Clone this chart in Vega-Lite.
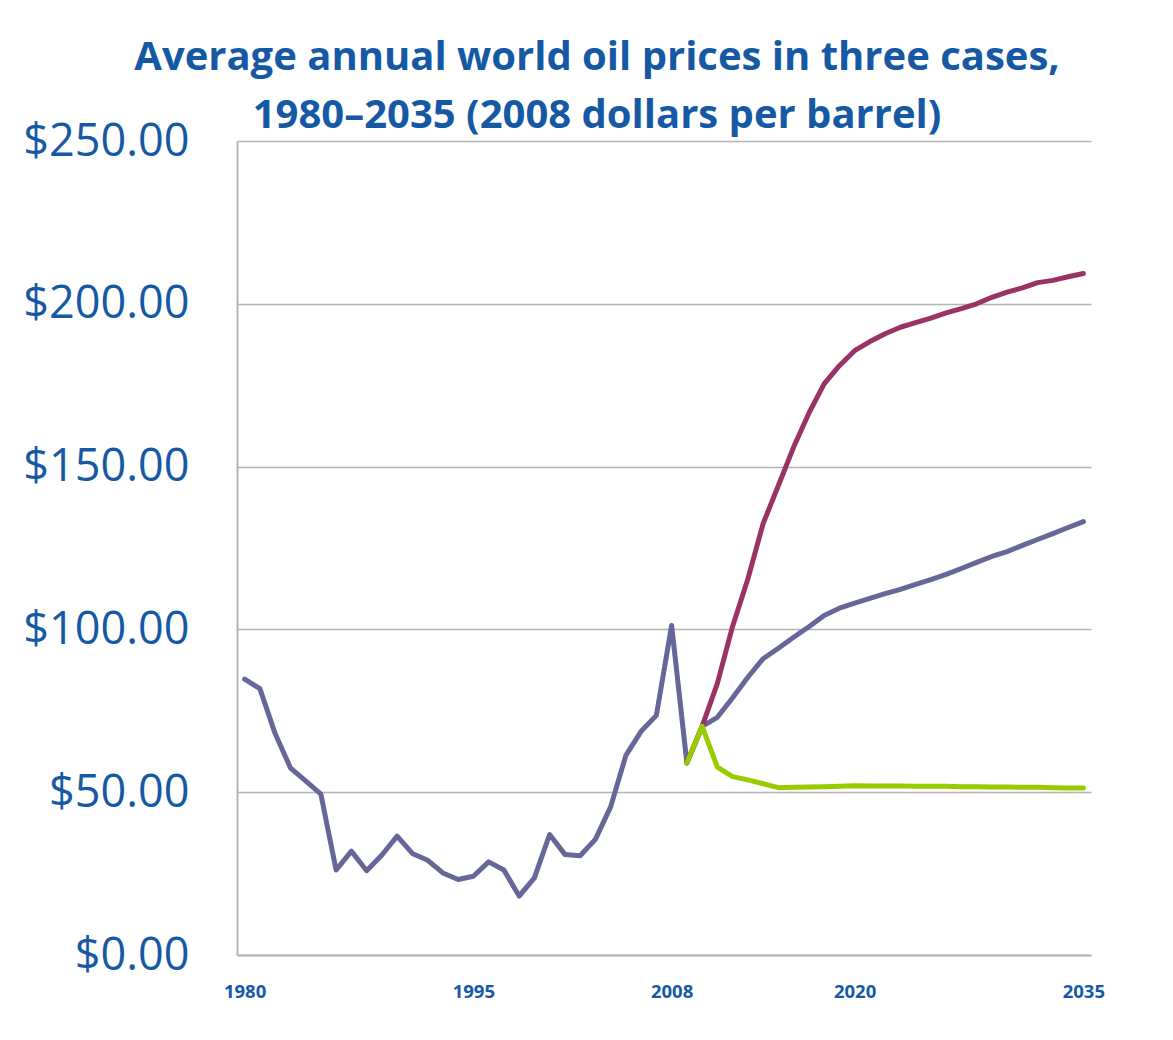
{
  "$schema": "https://vega.github.io/schema/vega-lite/v6.json",
  "autosize": {"type": "none"},
  "padding": {"left": 237, "top": 141, "right": 82, "bottom": 85},
  "width": 854,
  "height": 814,
  "background": "white",
  "title": {
    "text": ["Average annual world oil prices in three cases,", "1980–2035 (2008 dollars per barrel)"],
    "font": "Open Sans",
    "fontSize": 40,
    "fontWeight": "bold",
    "color": "#1559a5",
    "lineHeight": 58,
    "anchor": "middle",
    "dx": -67,
    "dy": 27,
    "offset": 10
  },
  "datasets": {
    "prices": [
      {"year": 1980, "price": 84.7, "case": "Reference"},
      {"year": 1981, "price": 81.8, "case": "Reference"},
      {"year": 1982, "price": 68.0, "case": "Reference"},
      {"year": 1983, "price": 57.5, "case": "Reference"},
      {"year": 1984, "price": 53.5, "case": "Reference"},
      {"year": 1985, "price": 49.4, "case": "Reference"},
      {"year": 1986, "price": 26.1, "case": "Reference"},
      {"year": 1987, "price": 31.9, "case": "Reference"},
      {"year": 1988, "price": 25.9, "case": "Reference"},
      {"year": 1989, "price": 30.7, "case": "Reference"},
      {"year": 1990, "price": 36.5, "case": "Reference"},
      {"year": 1991, "price": 31.2, "case": "Reference"},
      {"year": 1992, "price": 29.1, "case": "Reference"},
      {"year": 1993, "price": 25.2, "case": "Reference"},
      {"year": 1994, "price": 23.2, "case": "Reference"},
      {"year": 1995, "price": 24.2, "case": "Reference"},
      {"year": 1996, "price": 28.6, "case": "Reference"},
      {"year": 1997, "price": 26.1, "case": "Reference"},
      {"year": 1998, "price": 18.1, "case": "Reference"},
      {"year": 1999, "price": 23.7, "case": "Reference"},
      {"year": 2000, "price": 37.0, "case": "Reference"},
      {"year": 2001, "price": 30.9, "case": "Reference"},
      {"year": 2002, "price": 30.5, "case": "Reference"},
      {"year": 2003, "price": 35.5, "case": "Reference"},
      {"year": 2004, "price": 45.5, "case": "Reference"},
      {"year": 2005, "price": 61.3, "case": "Reference"},
      {"year": 2006, "price": 68.7, "case": "Reference"},
      {"year": 2007, "price": 73.6, "case": "Reference"},
      {"year": 2008, "price": 101.2, "case": "Reference"},
      {"year": 2009, "price": 59.0, "case": "Reference"},
      {"year": 2010, "price": 70.2, "case": "Reference"},
      {"year": 2011, "price": 73.0, "case": "Reference"},
      {"year": 2012, "price": 79.0, "case": "Reference"},
      {"year": 2013, "price": 85.3, "case": "Reference"},
      {"year": 2014, "price": 91.0, "case": "Reference"},
      {"year": 2015, "price": 94.2, "case": "Reference"},
      {"year": 2016, "price": 97.6, "case": "Reference"},
      {"year": 2017, "price": 100.8, "case": "Reference"},
      {"year": 2018, "price": 104.3, "case": "Reference"},
      {"year": 2019, "price": 106.5, "case": "Reference"},
      {"year": 2020, "price": 108.1, "case": "Reference"},
      {"year": 2021, "price": 109.5, "case": "Reference"},
      {"year": 2022, "price": 111.0, "case": "Reference"},
      {"year": 2023, "price": 112.3, "case": "Reference"},
      {"year": 2024, "price": 113.8, "case": "Reference"},
      {"year": 2025, "price": 115.3, "case": "Reference"},
      {"year": 2026, "price": 116.9, "case": "Reference"},
      {"year": 2027, "price": 118.7, "case": "Reference"},
      {"year": 2028, "price": 120.6, "case": "Reference"},
      {"year": 2029, "price": 122.4, "case": "Reference"},
      {"year": 2030, "price": 123.9, "case": "Reference"},
      {"year": 2031, "price": 125.8, "case": "Reference"},
      {"year": 2032, "price": 127.6, "case": "Reference"},
      {"year": 2033, "price": 129.4, "case": "Reference"},
      {"year": 2034, "price": 131.3, "case": "Reference"},
      {"year": 2035, "price": 133.1, "case": "Reference"},
      {"year": 2009, "price": 59.0, "case": "High price"},
      {"year": 2010, "price": 70.2, "case": "High price"},
      {"year": 2011, "price": 83.4, "case": "High price"},
      {"year": 2012, "price": 101.0, "case": "High price"},
      {"year": 2013, "price": 115.5, "case": "High price"},
      {"year": 2014, "price": 132.5, "case": "High price"},
      {"year": 2015, "price": 144.2, "case": "High price"},
      {"year": 2016, "price": 156.0, "case": "High price"},
      {"year": 2017, "price": 166.4, "case": "High price"},
      {"year": 2018, "price": 175.4, "case": "High price"},
      {"year": 2019, "price": 181.0, "case": "High price"},
      {"year": 2020, "price": 185.6, "case": "High price"},
      {"year": 2021, "price": 188.4, "case": "High price"},
      {"year": 2022, "price": 190.8, "case": "High price"},
      {"year": 2023, "price": 192.8, "case": "High price"},
      {"year": 2024, "price": 194.2, "case": "High price"},
      {"year": 2025, "price": 195.6, "case": "High price"},
      {"year": 2026, "price": 197.2, "case": "High price"},
      {"year": 2027, "price": 198.5, "case": "High price"},
      {"year": 2028, "price": 200.0, "case": "High price"},
      {"year": 2029, "price": 202.0, "case": "High price"},
      {"year": 2030, "price": 203.6, "case": "High price"},
      {"year": 2031, "price": 204.9, "case": "High price"},
      {"year": 2032, "price": 206.5, "case": "High price"},
      {"year": 2033, "price": 207.2, "case": "High price"},
      {"year": 2034, "price": 208.3, "case": "High price"},
      {"year": 2035, "price": 209.3, "case": "High price"},
      {"year": 2009, "price": 59.0, "case": "Low price"},
      {"year": 2010, "price": 70.2, "case": "Low price"},
      {"year": 2011, "price": 57.7, "case": "Low price"},
      {"year": 2012, "price": 54.8, "case": "Low price"},
      {"year": 2013, "price": 53.8, "case": "Low price"},
      {"year": 2014, "price": 52.6, "case": "Low price"},
      {"year": 2015, "price": 51.4, "case": "Low price"},
      {"year": 2016, "price": 51.5, "case": "Low price"},
      {"year": 2017, "price": 51.6, "case": "Low price"},
      {"year": 2018, "price": 51.7, "case": "Low price"},
      {"year": 2019, "price": 51.8, "case": "Low price"},
      {"year": 2020, "price": 52.0, "case": "Low price"},
      {"year": 2021, "price": 51.9, "case": "Low price"},
      {"year": 2022, "price": 51.9, "case": "Low price"},
      {"year": 2023, "price": 51.9, "case": "Low price"},
      {"year": 2024, "price": 51.8, "case": "Low price"},
      {"year": 2025, "price": 51.8, "case": "Low price"},
      {"year": 2026, "price": 51.8, "case": "Low price"},
      {"year": 2027, "price": 51.7, "case": "Low price"},
      {"year": 2028, "price": 51.7, "case": "Low price"},
      {"year": 2029, "price": 51.6, "case": "Low price"},
      {"year": 2030, "price": 51.6, "case": "Low price"},
      {"year": 2031, "price": 51.5, "case": "Low price"},
      {"year": 2032, "price": 51.5, "case": "Low price"},
      {"year": 2033, "price": 51.4, "case": "Low price"},
      {"year": 2034, "price": 51.3, "case": "Low price"},
      {"year": 2035, "price": 51.3, "case": "Low price"}
    ]
  },
  "data": {"name": "prices"},
  "config": {
    "view": {"stroke": null},
    "axis": {"domainColor": "#b4b4b4", "domainWidth": 2, "gridColor": "#b4b4b4", "gridWidth": 1.5, "ticks": false}
  },
  "encoding": {
    "x": {
      "field": "year",
      "type": "quantitative",
      "scale": {"domain": [1979.5, 2035.5], "nice": false, "zero": false},
      "axis": {
        "title": null,
        "grid": false,
        "values": [1980, 1995, 2008, 2020, 2035],
        "format": "d",
        "labelFont": "Open Sans",
        "labelFontSize": 18.5,
        "labelFontWeight": "bold",
        "labelColor": "#1559a5",
        "labelPadding": 27,
        "labelFlush": false
      }
    },
    "y": {
      "field": "price",
      "type": "quantitative",
      "scale": {"domain": [0, 250], "nice": false},
      "axis": {
        "title": null,
        "values": [0, 50, 100, 150, 200, 250],
        "format": "$.2f",
        "labelFont": "Open Sans",
        "labelFontSize": 45,
        "labelColor": "#1559a5",
        "labelPadding": 48,
        "labelFlush": false
      }
    },
    "color": {
      "field": "case",
      "type": "nominal",
      "scale": {"domain": ["Reference", "High price", "Low price"], "range": ["#666699", "#993366", "#99cc00"]},
      "legend": null
    }
  },
  "layer": [
    {"transform": [{"filter": "datum.case === 'Reference'"}], "mark": {"type": "line", "strokeWidth": 5, "strokeCap": "round", "strokeJoin": "round"}},
    {"transform": [{"filter": "datum.case === 'High price'"}], "mark": {"type": "line", "strokeWidth": 5, "strokeCap": "round", "strokeJoin": "round"}},
    {"transform": [{"filter": "datum.case === 'Low price'"}], "mark": {"type": "line", "strokeWidth": 5, "strokeCap": "round", "strokeJoin": "round"}}
  ]
}
